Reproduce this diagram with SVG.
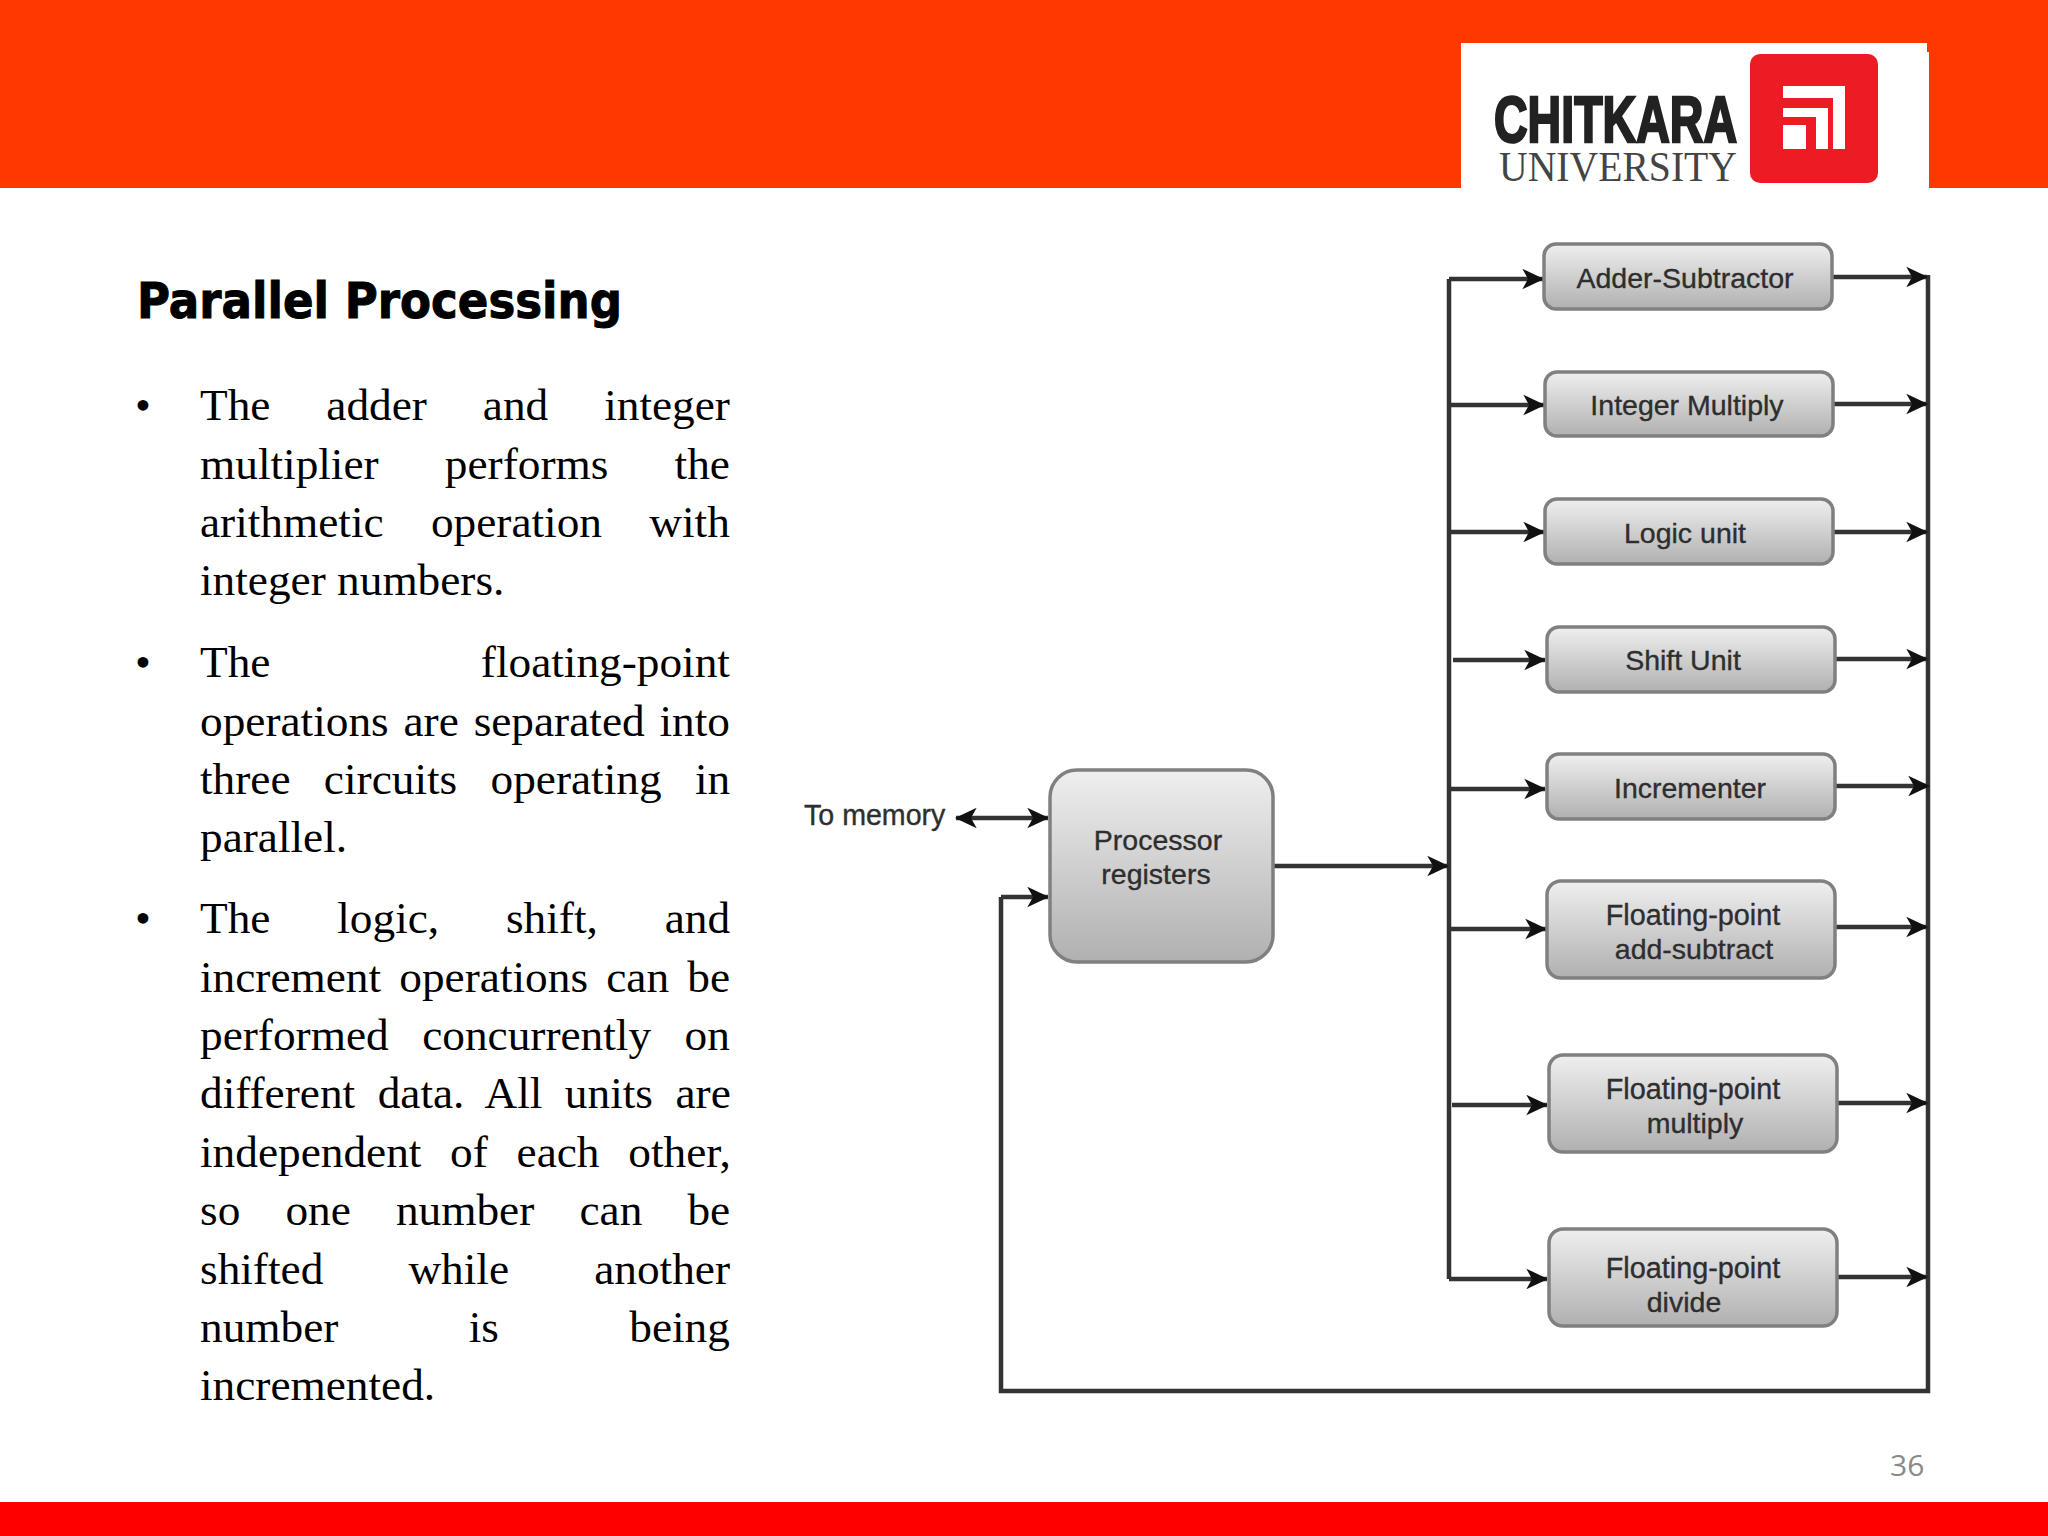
<svg xmlns="http://www.w3.org/2000/svg" width="2048" height="1536" viewBox="0 0 2048 1536">
<style>
.b{font-family:"Liberation Serif","Times New Roman",serif;font-size:45.3px;fill:#000}
.n{font-family:"Liberation Sans",Arial,sans-serif;font-size:28.5px;fill:#2e2e2e;stroke:#2e2e2e;stroke-width:.35;text-anchor:middle}
.box{fill:url(#g);stroke:#808080;stroke-width:3.5}
.w{fill:none;stroke:#333;stroke-width:4.5}
.a{marker-end:url(#ah)}
</style>
<defs>
<linearGradient id="g" x1="0" y1="0" x2="0" y2="1"><stop offset="0" stop-color="#efefef"/><stop offset="1" stop-color="#b0b0b0"/></linearGradient>
<marker id="ah" markerUnits="userSpaceOnUse" viewBox="0 0 20 20" refX="19" refY="10" markerWidth="23" markerHeight="23" orient="auto-start-reverse"><path d="M1,1 L20,10 L1,19 L6,10 z" fill="#111"/></marker>
</defs>
<rect width="2048" height="1536" fill="#fff"/>
<g id="header">
<rect width="2048" height="188" fill="#ff3700"/>
<rect x="1461" y="43" width="466" height="145" fill="#fff"/>
<rect x="1927" y="52" width="2" height="136" fill="#fff"/>
</g>
<g id="logo">
<text x="1494" y="142" font-family="Liberation Sans,Arial,sans-serif" font-weight="700" font-size="65" fill="#222" stroke="#222" stroke-width="2.5" textLength="243" lengthAdjust="spacingAndGlyphs">CHITKARA</text>
<text x="1499" y="181" font-family="Liberation Serif,Times New Roman,serif" font-size="42" fill="#444" textLength="238" lengthAdjust="spacingAndGlyphs">UNIVERSITY</text>
<rect x="1750" y="54" width="128" height="129" rx="10" fill="#ed1c24"/>
<path d="M1783,86H1845V149H1833V98H1783zM1783,108H1828V149H1816V117H1783zM1783,125H1806V149H1783z" fill="#fff"/>
</g>
<g id="footer"><rect y="1502" width="2048" height="34" fill="#ff0000"/>
<text x="1890" y="1476" font-family="Open Sans,sans-serif" font-size="30" fill="#8a8a8a">36</text></g>
<g id="text">
<text x="137" y="318" font-family="DejaVu Sans,Verdana,sans-serif" font-weight="700" font-size="50" fill="#000" stroke="#000" stroke-width="1" textLength="485" lengthAdjust="spacingAndGlyphs">Parallel Processing</text>
<text class="b" x="135" y="420">•</text>
<text class="b" x="200" y="420" word-spacing="44.6">The adder and integer</text>
<text class="b" x="200" y="479" word-spacing="54.9">multiplier performs the</text>
<text class="b" x="200" y="537" word-spacing="36">arithmetic operation with</text>
<text class="b" x="200" y="595">integer numbers.</text>
<text class="b" x="135" y="677">•</text>
<text class="b" x="200" y="677" word-spacing="199.1">The floating-point</text>
<text class="b" x="200" y="736" word-spacing="3.5">operations are separated into</text>
<text class="b" x="200" y="794" word-spacing="22">three circuits operating in</text>
<text class="b" x="200" y="852">parallel.</text>
<text class="b" x="135" y="933">•</text>
<text class="b" x="200" y="933" word-spacing="55.5">The logic, shift, and</text>
<text class="b" x="200" y="992" word-spacing="6.9">increment operations can be</text>
<text class="b" x="200" y="1050" word-spacing="22.2">performed concurrently on</text>
<text class="b" x="200" y="1108" word-spacing="11.2">different data. All units are</text>
<text class="b" x="200" y="1167" word-spacing="17.4">independent of each other,</text>
<text class="b" x="200" y="1225" word-spacing="33.8">so one number can be</text>
<text class="b" x="200" y="1284" word-spacing="73.8">shifted while another</text>
<text class="b" x="200" y="1342" word-spacing="119">number is being</text>
<text class="b" x="200" y="1400">incremented.</text>
</g>
<g id="connectors">
<path class="w" d="M1449,279V1279"/>
<path class="w" d="M1928,275V1391H1001V897"/>
<path class="w a" d="M1001,897H1048"/>
<path class="w a" style="marker-start:url(#ah)" d="M956,818H1048"/>
<path class="w a" d="M1273,866H1448"/>
<path class="w a" d="M1449,279H1543"/>
<path class="w a" d="M1449,405H1544"/>
<path class="w a" d="M1449,532H1544"/>
<path class="w a" d="M1453,660H1545"/>
<path class="w a" d="M1449,789H1545"/>
<path class="w a" d="M1449,929H1546"/>
<path class="w a" d="M1452,1105H1547"/>
<path class="w a" d="M1449,1279H1547"/>
<path class="w a" d="M1832,277H1927"/>
<path class="w a" d="M1833,404H1927"/>
<path class="w a" d="M1833,532H1927"/>
<path class="w a" d="M1835,659H1927"/>
<path class="w a" d="M1835,786H1929"/>
<path class="w a" d="M1836,927H1927"/>
<path class="w a" d="M1838,1103H1927"/>
<path class="w a" d="M1838,1277H1927"/>
</g>
<g id="to-memory"><text class="n" style="text-anchor:start;font-size:28.6px" x="804" y="825">To memory</text></g>
<g id="processor"><rect class="box" x="1050" y="770" width="223" height="192" rx="27"/>
<text class="n" x="1158" y="850">Processor</text><text class="n" x="1156" y="884">registers</text></g>
<g id="adder"><rect class="box" x="1544" y="244" width="288" height="65" rx="12"/><text class="n" x="1685" y="288">Adder-Subtractor</text></g>
<g id="integer"><rect class="box" x="1545" y="372" width="288" height="64" rx="12"/><text class="n" x="1687" y="415">Integer Multiply</text></g>
<g id="logic"><rect class="box" x="1545" y="499" width="288" height="65" rx="12"/><text class="n" x="1685" y="543">Logic unit</text></g>
<g id="shift"><rect class="box" x="1547" y="627" width="288" height="65" rx="12"/><text class="n" x="1683" y="670">Shift Unit</text></g>
<g id="incrementer"><rect class="box" x="1547" y="754" width="288" height="65" rx="12"/><text class="n" x="1690" y="798">Incrementer</text></g>
<g id="fp-add"><rect class="box" x="1547" y="881" width="288" height="97" rx="14"/><text class="n" style="font-size:28.8px" x="1693" y="925">Floating-point</text><text class="n" x="1694" y="959">add-subtract</text></g>
<g id="fp-mul"><rect class="box" x="1549" y="1055" width="288" height="97" rx="14"/><text class="n" style="font-size:28.8px" x="1693" y="1099">Floating-point</text><text class="n" x="1695" y="1133">multiply</text></g>
<g id="fp-div"><rect class="box" x="1549" y="1229" width="288" height="97" rx="14"/><text class="n" style="font-size:28.8px" x="1693" y="1278">Floating-point</text><text class="n" x="1684" y="1312">divide</text></g>
</svg>
